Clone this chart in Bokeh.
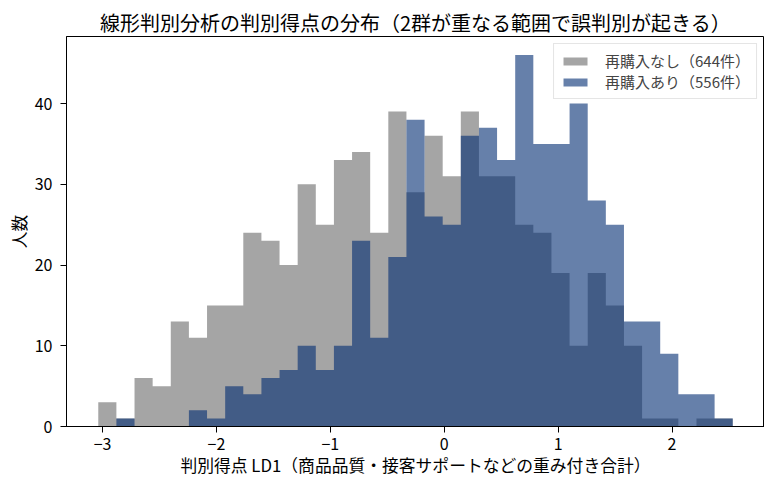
import numpy as np
from bokeh.plotting import figure
from bokeh.models import Range1d, FixedTicker
from bokeh.embed import file_html
from bokeh.resources import INLINE

# 判別得点のヒストグラム（35ビン、両群で共通のビン）
bin_lo, bin_hi, n_bins = -3.038, 2.533, 35

counts_no = [3, 1, 6, 5, 13, 11, 15, 15, 24, 23, 20, 30, 25, 33, 34, 24, 39, 29,
             36, 31, 39, 31, 31, 25, 24, 19, 10, 19, 15, 10, 1, 1, 0, 1, 1]
counts_yes = [0, 1, 0, 0, 0, 2, 1, 5, 4, 6, 7, 10, 7, 10, 23, 11, 21, 38,
              26, 25, 36, 37, 33, 46, 35, 35, 40, 28, 25, 13, 13, 9, 4, 4, 1]

label_no = "再購入なし（644件）"
label_yes = "再購入あり（556件）"
x_ticks = [-3, -2, -1, 0, 1, 2]
y_ticks = [0, 10, 20, 30, 40]

FONT = "Noto Sans CJK JP"

edges = np.linspace(bin_lo, bin_hi, n_bins + 1)


def step_outline(counts):
    # 各ビンを階段状の1つの多角形にまとめる（隙間の白線を防ぐ）
    xs = np.repeat(edges, 2)
    ys = np.concatenate([[0], np.repeat(counts, 2), [0]])
    return xs, ys


p = figure(frame_width=698, frame_height=390, output_backend="svg", toolbar_location=None,
           x_range=Range1d(-3.317, 2.812), y_range=Range1d(0, 48.3),
           title="線形判別分析の判別得点の分布（2群が重なる範囲で誤判別が起きる）",
           x_axis_label="判別得点 LD1（商品品質・接客サポートなどの重み付き合計）",
           y_axis_label="人数",
           min_border_left=66, min_border_right=0, min_border_top=36,
           min_border_bottom=10)

xs, ys = step_outline(counts_no)
p.patch(xs, ys, fill_color="#696969", fill_alpha=0.6, line_color=None,
        legend_label=label_no)
xs, ys = step_outline(counts_yes)
p.patch(xs, ys, fill_color="#002b71", fill_alpha=0.6, line_color=None,
        legend_label=label_yes)

p.title.align = "center"
p.title.text_font = FONT
p.title.text_font_size = "20px"
p.title.text_font_style = "normal"
p.title.text_color = "black"
p.title.standoff = 0

p.grid.visible = False
p.outline_line_color = "black"
p.outline_line_alpha = 1

p.xaxis.ticker = FixedTicker(ticks=x_ticks)
p.yaxis.ticker = FixedTicker(ticks=y_ticks)
p.xaxis.major_label_overrides = {t: str(t).replace("-", "−") for t in x_ticks}
for ax in (p.xaxis, p.yaxis):
    ax.major_tick_out = 6
    ax.major_tick_in = 0
    ax.minor_tick_line_color = None
    ax.axis_line_color = "black"
    ax.major_tick_line_color = "black"
    ax.major_label_text_font = FONT
    ax.major_label_text_font_size = "16px"
    ax.major_label_text_color = "black"
    ax.axis_label_text_font = FONT
    ax.axis_label_text_font_size = "16.8px"
    ax.axis_label_text_font_style = "normal"
    ax.axis_label_text_color = "black"
p.xaxis.major_label_standoff = 5
p.yaxis.major_label_standoff = 8
p.xaxis.axis_label_standoff = 0
p.yaxis.axis_label_standoff = 1

lg = p.legend[0]
lg.location = "top_right"
lg.margin = 7
lg.padding = 6
lg.spacing = 0
lg.glyph_width = 30
lg.glyph_height = 10
lg.label_height = 12
lg.label_standoff = 15
lg.label_text_font = FONT
lg.label_text_font_size = "15px"
lg.border_line_color = "#cccccc"
lg.border_line_width = 1
lg.background_fill_alpha = 0.8

open("out.html", "w").write(file_html(p, INLINE))
